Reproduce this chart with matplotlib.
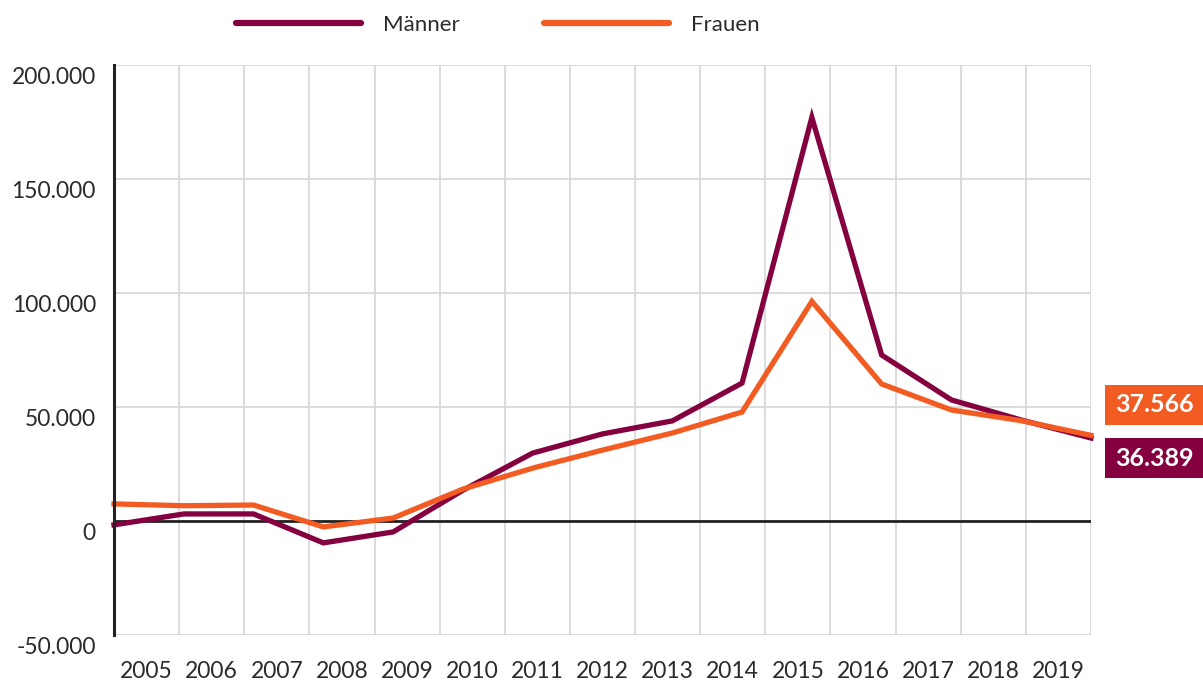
import numpy as np
import matplotlib.pyplot as plt
from matplotlib.patches import Rectangle
from matplotlib.transforms import ScaledTranslation

plt.rcParams['font.family'] = ['Lato', 'DejaVu Sans']

years = [str(y) for y in range(2005, 2020)]
maenner = [-1700, 3100, 3100, -9600, -4800, 13500, 29800, 38200, 43900,
           60500, 177000, 72800, 53100, 44300, 36389]
frauen = [7500, 6700, 7000, -2600, 1300, 14000, 23200, 31100, 38600,
          47800, 96300, 60100, 48700, 44000, 37566]
yticks = [-50000, 0, 50000, 100000, 150000, 200000]

c_m = '#84003f'
c_f = '#f25b22'
c_txt = '#2b2b2b'


def de(v):
    return f"{v:,}".replace(",", ".")


fig = plt.figure(figsize=(12.03, 6.81), dpi=100)
ax = fig.add_axes([114 / 1203, 46 / 681, 977 / 1203, 570 / 681])

n = len(years)
x = np.linspace(0, n, n)  # points spread across the full width

ax.set_xlim(0, n)
ax.set_ylim(-50000, 200000)

ax.set_xticks(np.arange(n + 1), minor=False)
ax.set_xticklabels([])
ax.set_xticks(np.arange(n) + 0.5, minor=True)
ax.set_xticklabels(years, minor=True)
ax.tick_params(axis='x', which='both', length=0)
ax.tick_params(axis='x', which='minor', pad=19, labelsize=16.5, labelcolor=c_txt)

ax.set_yticks(yticks)
ax.set_yticklabels([de(v) for v in yticks])
ax.tick_params(axis='y', length=0, pad=13, labelsize=16.5, labelcolor=c_txt)
off = ScaledTranslation(0, -10 / 100, fig.dpi_scale_trans)
for lab in ax.get_yticklabels():
    lab.set_transform(lab.get_transform() + off)

ax.grid(True, which='major', color='#d6d6d6', linewidth=1.2, zorder=0)
ax.set_axisbelow(True)
for s in ['top', 'right', 'bottom']:
    ax.spines[s].set_visible(False)
ax.spines['left'].set_color('#222222')
ax.spines['left'].set_linewidth(2.2)
ax.spines['left'].set_zorder(4)

ax.axhline(0, color='#222222', linewidth=2, zorder=2)

ax.plot(x, maenner, color=c_m, linewidth=3.8, label='Männer', zorder=3,
        solid_joinstyle='miter', clip_on=False)
ax.plot(x, frauen, color=c_f, linewidth=3.8, label='Frauen', zorder=3,
        solid_joinstyle='miter', clip_on=False)

leg = fig.legend(loc='center', bbox_to_anchor=(0.414, 0.963), ncol=2,
                 frameon=False, fontsize=16, handlelength=5.6,
                 handletextpad=1.0, columnspacing=3.8, borderpad=0)
for h in leg.legend_handles:
    h.set_linewidth(4.5)
    h.set_solid_capstyle('round')
for t in leg.get_texts():
    t.set_color(c_txt)

# end value boxes
for val, col, yc in [(frauen[-1], c_f, 405), (maenner[-1], c_m, 458)]:
    fig.patches.append(Rectangle((1105 / 1203, 1 - (yc + 20) / 681),
                                 98 / 1203, 40 / 681, transform=fig.transFigure,
                                 facecolor=col, edgecolor='none'))
    fig.text(1154 / 1203, 1 - yc / 681, de(val), color='white', fontsize=18,
             fontweight='bold', ha='center', va='center')

fig.savefig('out.png', dpi=100)
